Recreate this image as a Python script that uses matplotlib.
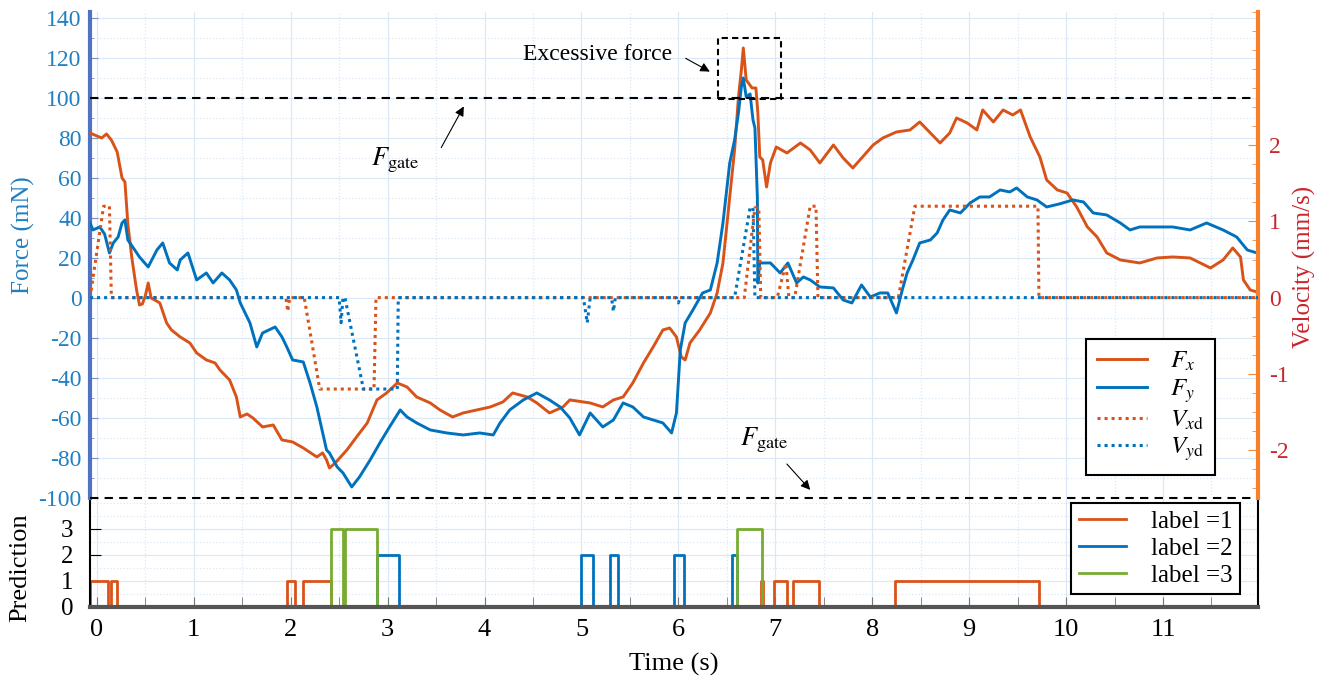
import matplotlib
matplotlib.use('Agg')
import matplotlib.pyplot as plt
from matplotlib.patches import Rectangle
from matplotlib.ticker import MultipleLocator

plt.rcParams['font.family'] = ['Liberation Serif', 'DejaVu Serif']
plt.rcParams['mathtext.fontset'] = 'stix'
plt.rcParams['axes.unicode_minus'] = False

# ---- force data (mN) ----
t_fx = [-0.07, 0.0, 0.05, 0.1, 0.15, 0.21, 0.26, 0.29, 0.32, 0.36, 0.41, 0.44, 0.47, 0.5, 0.53, 0.56,
        0.65, 0.72, 0.77, 0.86, 0.96, 1.03, 1.13, 1.22, 1.27, 1.37, 1.44, 1.48, 1.55, 1.61, 1.71, 1.82,
        1.91, 2.02, 2.13, 2.27, 2.33, 2.37, 2.40, 2.46, 2.58, 2.68, 2.79, 2.89, 2.99, 3.1, 3.2, 3.3,
        3.44, 3.54, 3.67, 3.78, 3.92, 4.06, 4.19, 4.29, 4.44, 4.54, 4.67, 4.81, 4.88, 5.09, 5.22, 5.33,
        5.43, 5.53, 5.64, 5.74, 5.84, 5.91, 5.98, 6.03, 6.07, 6.12, 6.22, 6.33, 6.40, 6.46, 6.53, 6.58,
        6.62, 6.65, 6.67, 6.69, 6.70, 6.76, 6.80, 6.82, 6.84, 6.87, 6.91, 6.95, 7.01, 7.12, 7.26, 7.36,
        7.46, 7.6, 7.7, 7.8, 7.9, 8.01, 8.11, 8.25, 8.39, 8.49, 8.6, 8.7, 8.8, 8.87, 8.98, 9.08,
        9.14, 9.25, 9.35, 9.45, 9.53, 9.63, 9.73, 9.8, 9.91, 10.01, 10.11, 10.22, 10.32, 10.42, 10.56, 10.76,
        10.94, 11.1, 11.28, 11.49, 11.62, 11.72, 11.8, 11.83, 11.9, 11.97]
fx = [82.5, 81, 80, 82, 79, 73, 60, 58, 37, 20.5, 4, -3.5, -3, 1, 7.5, 0,
      -2.5, -12.5, -16, -19.5, -22.5, -27.5, -31, -32.5, -36, -41, -49.5, -59.5, -58, -60, -64.5, -63.5,
      -71, -72, -75, -79.5, -77.5, -81, -85, -82.5, -76, -69.5, -62.5, -51, -47.5, -42.5, -44.5, -49.5,
      -52.5, -56, -59.5, -57.5, -56, -54.5, -52, -47.5, -49.5, -52.5, -57.5, -54.5, -51, -52.5, -54.5, -51,
      -49.5, -42.5, -32.5, -24.5, -16, -15, -19.5, -29.5, -31, -22.5, -16, -7.5, 2.5, 17.5, 50.5, 74,
      100.5, 114, 125, 114, 109, 105, 105, 92.5, 70.5, 69, 55.5, 67.5, 75.5, 72.5, 77.5, 74,
      67.5, 76.5, 70, 65, 70.5, 76.5, 80, 83, 84, 88, 82.5, 77.5, 82.5, 90, 87.5, 84,
      94, 88, 94, 91.5, 94, 80.5, 70.5, 59, 54, 52.5, 45.5, 35.5, 30.5, 22.5, 19, 17.5,
      20, 20.5, 20, 15, 19, 25, 20.5, 9, 4, 3]

t_fy = [-0.07, -0.04, 0.03, 0.08, 0.13, 0.17, 0.22, 0.26, 0.29, 0.32, 0.37, 0.44, 0.53, 0.62, 0.68, 0.75,
        0.83, 0.86, 0.94, 1.03, 1.13, 1.2, 1.29, 1.37, 1.44, 1.48, 1.53, 1.58, 1.65, 1.71, 1.84, 1.91,
        1.96, 2.02, 2.13, 2.2, 2.27, 2.33, 2.37, 2.40, 2.48, 2.54, 2.63, 2.71, 2.82, 2.92, 3.02, 3.13,
        3.2, 3.3, 3.44, 3.61, 3.78, 3.95, 4.09, 4.16, 4.26, 4.4, 4.54, 4.67, 4.78, 4.88, 4.98, 5.09,
        5.22, 5.33, 5.43, 5.53, 5.64, 5.74, 5.84, 5.93, 5.98, 6.02, 6.07, 6.15, 6.25, 6.33, 6.40, 6.46,
        6.53, 6.58, 6.62, 6.65, 6.67, 6.70, 6.74, 6.77, 6.79, 6.815, 6.82, 6.84, 6.95, 7.05, 7.13, 7.22,
        7.29, 7.36, 7.46, 7.6, 7.7, 7.79, 7.89, 7.98, 8.08, 8.16, 8.25, 8.31, 8.36, 8.42, 8.49, 8.6,
        8.67, 8.73, 8.8, 8.91, 9.01, 9.11, 9.21, 9.32, 9.42, 9.49, 9.6, 9.7, 9.8, 9.93, 10.07, 10.18,
        10.28, 10.42, 10.56, 10.66, 10.76, 10.94, 11.1, 11.28, 11.45, 11.62, 11.76, 11.87, 11.97]
fy = [37.5, 34, 35.5, 32, 22.5, 27.5, 30.5, 37.5, 39, 29, 25.5, 20.5, 15.5, 24, 27.5, 17.5,
      14, 19, 22.5, 9, 12.5, 7.5, 12.5, 9, 4, -2.5, -7.5, -12.5, -24.5, -17.5, -14.5, -19.5,
      -24.5, -31, -32, -42.5, -54.5, -67.5, -76, -77.5, -84.5, -87.5, -94.5, -89.5, -81, -72.5, -64.5, -56,
      -59.5, -62.5, -66, -67.5, -68.5, -67.5, -68.5, -62.5, -56, -51, -47.5, -51, -54.5, -60, -68.5, -57.5,
      -64.5, -61, -52.5, -54.5, -59.5, -61, -62.5, -67.5, -57.5, -26, -12.5, -6, 2.5, 4, 17.5, 37.5,
      67.5, 79, 92.5, 105.5, 110, 100.5, 102, 89, 85, 50.5, 7.5, 17.5, 17.5, 12.5, 17.5, 7.5,
      10.5, 9, 5.5, 5, -1, -2.5, 6.5, 0.5, 2.5, 2.5, -7.5, 4, 12.5, 19, 27.5, 29,
      32.5, 39, 44, 42.5, 47.5, 50.5, 50.5, 54, 53, 55, 50.5, 49, 45.5, 47, 49, 48,
      42.5, 41.5, 37.5, 34, 35.5, 35.5, 35.5, 34, 37.5, 34, 30.5, 24, 22.5]

# ---- desired velocity (mm/s) ----
t_vx = [-0.07, 0.07, 0.13, 0.15, 1.95, 1.97, 1.99, 2.14, 2.30, 2.86, 2.88, 6.68, 6.79, 6.83, 6.85,
        7.02, 7.11, 7.14, 7.2, 7.36, 7.42, 7.44, 8.27, 8.44, 9.71, 9.72, 11.98]
vx = [0.0, 1.2, 1.2, 0.0, 0.0, -0.18, 0.0, 0.0, -1.2, -1.2, 0.0, 0.0, 1.18, 1.18, 0.0,
      0.0, 0.45, 0.0, 0.0, 1.2, 1.2, 0.0, 0.0, 1.2, 1.2, 0.0, 0.0]
t_vy = [-0.07, 2.50, 2.52, 2.54, 2.56, 2.75, 3.10, 3.11, 5.02, 5.06, 5.09, 5.31, 5.33, 5.35,
        5.98, 6.0, 6.02, 6.58, 6.74, 6.77, 6.79, 11.98]
vy = [0.0, 0.0, -0.33, 0.0, 0.0, -1.2, -1.2, 0.0, 0.0, -0.33, 0.0, 0.0, -0.18, 0.0,
      0.0, -0.07, 0.0, 0.0, 1.18, 1.18, 0.0, 0.0]

# ---- prediction intervals (start, end) ----
label1_spans = [(-0.07, 0.12), (0.15, 0.21), (1.96, 2.04), (2.13, 2.42), (6.85, 6.87),
                (6.99, 7.12), (7.18, 7.45), (8.24, 9.72)]
label2_spans = [(2.89, 3.12), (5.0, 5.12), (5.29, 5.38), (5.96, 6.06), (6.55, 6.6)]
label3_spans = [(2.42, 2.54), (2.56, 2.89), (6.6, 6.86)]

f_gate = 100
c_orange = '#d95319'
c_blue = '#0072bd'
c_green = '#77ac30'
grid_c = '#dbe8f5'


def steps(spans, level):
    xs, ys = [], []
    for a, b in spans:
        xs += [a, a, b, b]
        ys += [0, level, level, 0]
    return xs, ys


fig = plt.figure(figsize=(13.34, 6.84), dpi=100)
axp = fig.add_axes([0.0675, 0.1126, 0.8755, 0.1594])
ax = fig.add_axes([0.0675, 0.272, 0.8755, 0.7105], sharex=axp)
ax2 = ax.twinx()
ax.set_facecolor('none')

# top panel: forces
l_fx, = ax.plot(t_fx, fx, color=c_orange, lw=2.1, zorder=3)
l_fy, = ax.plot(t_fy, fy, color=c_blue, lw=2.1, zorder=3)
ax.axhline(f_gate, color='black', ls=(0, (4, 3)), lw=1.5, zorder=4)
ax.axhline(-f_gate, color='black', ls=(0, (4, 3)), lw=1.5, zorder=4, clip_on=False)
ax.set_xlim(-0.07, 11.98)
ax.set_ylim(-100, 143)
ax.yaxis.set_major_locator(MultipleLocator(20))
ax.yaxis.set_minor_locator(MultipleLocator(10))
ax.xaxis.set_major_locator(MultipleLocator(1))
ax.xaxis.set_minor_locator(MultipleLocator(0.5))
ax.grid(True, which='major', color=grid_c, lw=0.9)
ax.grid(True, which='minor', color=grid_c, lw=0.9, ls=':')
ax.tick_params(axis='x', which='both', bottom=False, labelbottom=False)
ax.tick_params(axis='y', which='both', direction='in', colors='#7d92c4', labelcolor='#1f80c4',
               labelsize=17, pad=6)
ax.tick_params(axis='y', which='major', length=6)
ax.tick_params(axis='y', which='minor', length=3)
for s in ['top', 'bottom', 'right']:
    ax.spines[s].set_visible(False)
ax.spines['left'].set_color('#4f72c2')
ax.spines['left'].set_linewidth(3)
ax.set_ylabel('Force (mN)', fontsize=18, color='#1f80c4')
ax.yaxis.set_label_coords(-0.047, 0.54)

# velocities on the right axis
l_vx, = ax2.plot(t_vx, vx, color=c_orange, lw=2.2, ls=(0, (1, 1.3)), zorder=3)
l_vy, = ax2.plot(t_vy, vy, color=c_blue, lw=2.2, ls=(0, (1, 1.3)), zorder=3)
ax2.set_ylim(-2.63, 3.75)
ax2.set_yticks([-2, -1, 0, 1, 2])
ax2.yaxis.set_minor_locator(MultipleLocator(0.25))
ax2.tick_params(axis='y', which='both', direction='in', colors='#f08a3c', labelcolor='#c8262c',
                labelsize=17, pad=8)
ax2.tick_params(axis='y', which='major', length=7)
ax2.tick_params(axis='y', which='minor', length=4)
for s in ['top', 'bottom', 'left']:
    ax2.spines[s].set_visible(False)
ax2.spines['right'].set_color('#f5822a')
ax2.spines['right'].set_linewidth(3)
ax2.set_ylabel('Velocity (mm/s)', fontsize=18, color='#c8262c')
ax2.yaxis.set_label_coords(1.03, 0.475)

# annotations
ax.text(3.08, 69, r'$F_{\rm gate}$', fontsize=19, ha='center', va='center')
ax.annotate('', xy=(3.8, 97), xytext=(3.54, 74),
            arrowprops=dict(arrowstyle='-|>', color='black', lw=0.8, mutation_scale=14))
ax.text(6.89, -71, r'$F_{\rm gate}$', fontsize=19, ha='center', va='center')
ax.annotate('', xy=(7.38, -97), xytext=(7.1, -82),
            arrowprops=dict(arrowstyle='-|>', color='black', lw=0.8, mutation_scale=14))
ax.text(5.17, 121.5, 'Excessive force', fontsize=17, ha='center', va='center')
ax.annotate('', xy=(6.35, 112.5), xytext=(6.05, 120.5),
            arrowprops=dict(arrowstyle='-|>', color='black', lw=0.8, mutation_scale=14))
ax.add_patch(Rectangle((6.41, 99.5), 0.65, 30.5, fill=False, ec='black', lw=1.5,
                       ls=(0, (3, 2)), zorder=5))

leg = ax2.legend([l_fx, l_fy, l_vx, l_vy],
                 [r'$F_x$', r'$F_y$', r'$V_{x\rm d}$', r'$V_{y\rm d}$'],
                 loc='lower right', bbox_to_anchor=(0.963, 0.048), borderaxespad=0,
                 fontsize=18, handlelength=2.0, labelspacing=0.15, borderpad=0.45,
                 handletextpad=0.9, fancybox=False, framealpha=1, edgecolor='black')
leg.get_frame().set_linewidth(1.5)

# bottom panel: predictions
x1, y1 = steps(label1_spans, 1)
x2, y2 = steps(label2_spans, 2)
x3, y3 = steps(label3_spans, 3)
axp.plot(x1, y1, color=c_orange, lw=2.0, label='label =1')
axp.plot(x2, y2, color=c_blue, lw=2.0, label='label =2')
axp.plot(x3, y3, color=c_green, lw=2.0, label='label =3')
axp.set_ylim(0, 4.19)
axp.set_yticks([0, 1, 2, 3])
axp.yaxis.set_minor_locator(MultipleLocator(0.5))
axp.set_xticks(range(12))
axp.xaxis.set_minor_locator(MultipleLocator(0.5))
axp.grid(True, which='major', color=grid_c, lw=0.9)
axp.grid(True, which='minor', color=grid_c, lw=0.9, ls=':')
axp.tick_params(axis='x', which='both', direction='in', colors='#777777', labelcolor='black',
                labelsize=19, pad=9)
axp.tick_params(axis='x', which='major', length=7)
axp.tick_params(axis='x', which='minor', length=7)
axp.tick_params(axis='y', which='major', direction='in', length=8, colors='black', labelsize=18, pad=12)
axp.tick_params(axis='y', which='minor', length=0)
axp.spines['top'].set_visible(False)
axp.spines['left'].set_linewidth(1.5)
axp.spines['right'].set_linewidth(1.5)
axp.spines['bottom'].set_color('#555555')
axp.spines['bottom'].set_linewidth(3)
axp.set_ylabel('Prediction', fontsize=19)
axp.yaxis.set_label_coords(-0.05, 0.36)
axp.set_xlabel('Time (s)', fontsize=19, labelpad=8)
legp = axp.legend(loc='upper right', bbox_to_anchor=(0.985, 0.955), borderaxespad=0, fontsize=18,
                  handlelength=1.9, labelspacing=0.18, borderpad=0.3, handletextpad=1.0,
                  fancybox=False, framealpha=1, edgecolor='black')
legp.get_frame().set_linewidth(1.5)

fig.savefig('out.png', dpi=100)
